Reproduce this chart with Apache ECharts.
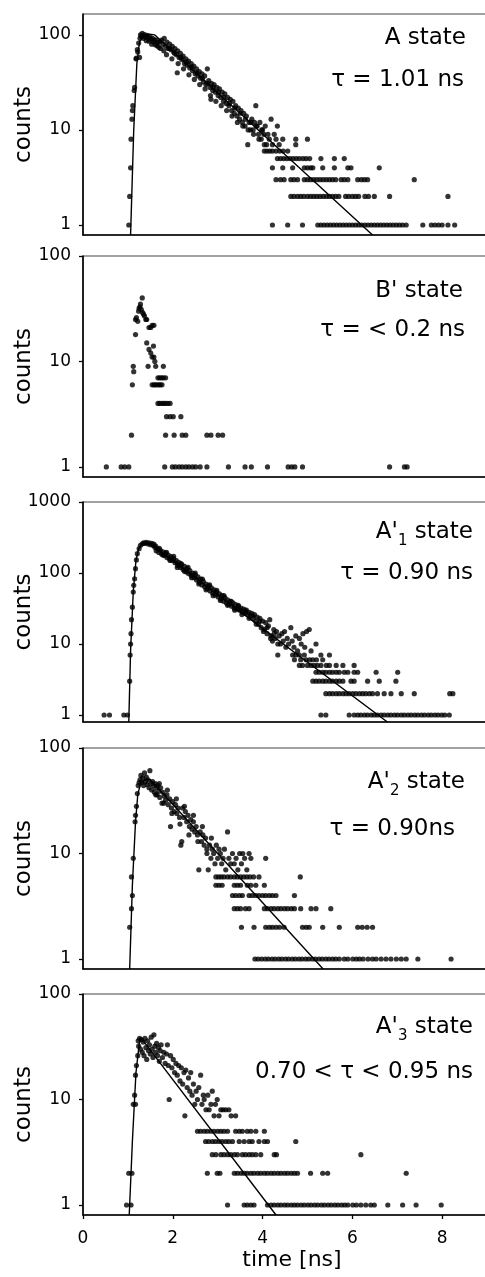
<!DOCTYPE html>
<html><head><meta charset="utf-8">
<script src="https://cdn.jsdelivr.net/npm/echarts@6/dist/echarts.min.js"></script>
<style>html,body{margin:0;padding:0;background:#fff}#c{width:485px;height:1277px}</style>
</head><body><div id="c"></div>
<script>
const FONT = 'DejaVu Sans';
const xTicks = [0, 2, 4, 6, 8];
const yTicks100 = [1, 10, 100];
const yTicks1000 = [1, 10, 100, 1000];
const xTitle = 'time [ns]';
const yTitle = 'counts';

// ---- Panel 1: A state ----
const p1Dots = [
 [1.02,1],[1.04,2],[1.06,4],[1.07,8],[1.09,13],[1.10,16],[1.11,18],[1.14,26],[1.15,28],[1.18,56],[1.19,57],[1.21,70],[1.22,66],[1.24,82],[1.26,58],[1.27,92],
 [1.28,100],[1.30,96],[1.32,104],[1.33,98],[1.35,92],[1.37,101],[1.39,95],[1.41,87],[1.43,99],[1.45,93],[1.47,86],[1.49,96],[1.51,90],[1.53,80],[1.55,92],[1.57,84],[1.59,89],[1.61,79],[1.63,88],[1.65,77],[1.67,83],[1.69,74],[1.71,85],[1.73,72],
 [1.75,88],[1.78,80],[1.81,92],[1.84,76],[1.87,84],[1.90,72],[1.93,80],[1.96,70],[1.99,76],[2.02,66],[2.05,72],[2.08,62],[2.10,40],[2.11,68],[2.14,58],[2.17,64],[2.20,55],[2.23,60],[2.26,50],[2.29,56],[2.32,48],[2.35,53],[2.38,45],[2.41,50],[2.44,42],[2.47,47],[2.50,39],[2.53,44],[2.56,37],[2.59,41],[2.62,35],[2.65,39],[2.68,32],[2.71,37],[2.74,30],[2.77,44],[2.80,33],[2.83,28],[2.85,21],[2.86,31],[2.89,26],[2.92,30],[2.95,25],[2.98,28],[3.01,23],[3.04,27],[3.07,22],[3.10,25],[3.13,20],[3.16,24],[3.19,19],[3.22,22],[3.25,18],[3.28,21],[3.31,16],[3.34,20],[3.37,15],[3.40,18],[3.43,14],[3.46,17],[3.49,13],[3.52,16],[3.55,12],[3.58,15],[3.61,11],[3.64,14],[3.67,7],[3.70,12],[3.73,10],[3.76,13],[3.79,10],[3.82,12],[3.85,18],[3.88,11],[3.91,9],[3.94,12],[3.97,8],[4.00,10],[4.03,9],[4.06,11],[4.09,7],[4.12,9],[4.15,8],[4.19,13],[4.22,7],[4.26,9],[4.30,8],[4.33,11],[4.37,7],[4.45,8],[4.74,8],[4.74,7],[5.00,8],
 [1.80,68],[1.86,62],[1.92,72],[1.98,56],[2.04,64],[2.12,50],[2.18,58],[2.24,44],[2.30,52],[2.36,38],[2.42,46],[2.48,34],[2.54,40],[2.60,30],[2.66,35],[2.72,27],[2.78,31],[2.84,23],[2.90,28],[2.96,20],[3.02,25],[3.08,18],[3.14,22],[3.20,16],[3.26,19],[3.32,14],[3.38,17],[3.44,12],[3.50,15],[3.56,11],[3.62,13],[3.68,10],[3.74,12],[3.80,9],[3.86,11],[3.92,8],[3.98,10],[4.04,7],
 [4.04,6],[4.10,6],[4.16,6],[4.22,6],[4.30,6],[4.38,6],[4.46,6],[4.56,6],
 [4.33,5],[4.40,5],[4.47,5],[4.54,5],[4.61,5],[4.68,5],[4.75,5],[4.82,5],[4.90,5],[4.97,5],[5.05,5],[5.30,5],[5.60,5],[5.82,5],
 [4.22,4],[4.45,4],[4.67,4],[4.93,4],[5.00,4],[5.07,4],[5.12,4],[5.34,4],[5.60,4],[5.90,4],[5.97,4],[6.60,4],
 [4.30,3],[4.40,3],[4.48,3],[4.63,3],[4.70,3],[4.78,3],[4.93,3],[5.00,3],[5.07,3],[5.14,3],[5.21,3],[5.28,3],[5.35,3],[5.42,3],[5.49,3],[5.56,3],[5.63,3],[5.75,3],[5.82,3],[5.90,3],[6.12,3],[6.20,3],[6.27,3],[6.34,3],[7.38,3],
 [4.63,2],[4.70,2],[4.78,2],[4.85,2],[4.92,2],[5.00,2],[5.07,2],[5.14,2],[5.21,2],[5.28,2],[5.35,2],[5.42,2],[5.49,2],[5.56,2],[5.63,2],[5.70,2],[5.85,2],[5.92,2],[6.00,2],[6.07,2],[6.14,2],[6.28,2],[6.36,2],[6.49,2],[6.83,2],[8.13,2],
 [4.22,1],[4.56,1],[4.89,1],[5.23,1],[5.30,1],[5.37,1],[5.44,1],[5.51,1],[5.58,1],[5.65,1],[5.72,1],[5.79,1],[5.86,1],[5.93,1],[6.00,1],[6.07,1],[6.14,1],[6.21,1],[6.28,1],[6.35,1],[6.42,1],[6.49,1],[6.56,1],[6.63,1],[6.70,1],[6.77,1],[6.84,1],[6.91,1],[6.98,1],[7.05,1],[7.12,1],[7.20,1],[7.57,1],[7.76,1],[7.84,1],[7.92,1],[8.00,1],[8.13,1],[8.28,1]
];
const p1Fit = [[1.06,0.785],[1.13,10],[1.20,50],[1.26,85],[1.35,98],[1.48,102],[1.60,100],[6.45,0.785]];

// ---- Panel 2: B' state ----
const p2Dots = [
 [1.08,2],[1.10,6],[1.12,9],[1.13,8],[1.17,18],[1.17,25],[1.19,26],[1.22,24],[1.24,30],[1.25,32],[1.27,33],[1.28,35],[1.30,31],[1.32,40],[1.33,29],[1.35,28],[1.37,27],[1.40,25],[1.42,25],[1.47,21],[1.51,21],[1.54,22],[1.58,22],
 [1.42,15],[1.47,13],[1.51,12],[1.54,11],[1.57,14],[1.58,11],[1.60,10],[1.62,9],[1.45,9],[1.79,9],
 [1.54,6],[1.58,6],[1.61,6],[1.65,6],[1.69,6],[1.72,6],[1.76,6],[1.67,7],[1.71,7],[1.75,7],[1.79,7],[1.84,7],
 [1.67,4],[1.71,4],[1.76,4],[1.80,4],[1.84,4],[1.89,4],[1.94,4],
 [1.86,3],[1.94,3],[2.01,3],[2.18,3],
 [1.84,2],[2.03,2],[2.21,2],[2.29,2],[2.76,2],[2.85,2],[3.01,2],[3.11,2],
 [0.52,1],[0.85,1],[0.93,1],[1.02,1],[1.82,1],[1.99,1],[2.06,1],[2.14,1],[2.21,1],[2.29,1],[2.36,1],[2.44,1],[2.51,1],[2.61,1],[2.76,1],[3.24,1],[3.61,1],[3.75,1],[4.11,1],[4.57,1],[4.65,1],[4.72,1],[4.89,1],[6.83,1],[7.16,1],[7.22,1]
];

// ---- Panel 3: A'1 state ----
const p3Dots = [
 [0.47,1],[0.59,1],[0.91,1],[0.99,1],
 [1.04,3],[1.05,7],[1.06,10],[1.07,14],[1.08,22],[1.10,33],[1.12,54],[1.13,67],[1.15,83],[1.17,115],[1.19,153],[1.21,187],[1.25,220],[1.28,245],[1.32,258],[1.35,265],[1.38,262],[1.41,270],[1.44,258],[1.47,266],[1.50,250],[1.53,262],[1.56,245],[1.58,255],
 [1.60,230],[1.63,205],[1.66,220],[1.69,195],[1.72,210],[1.75,185],[1.78,198],[1.81,176],[1.84,190],[1.87,165],[1.90,178],[1.93,158],[1.96,170],[1.99,150],[2.02,160],[2.05,140],[2.08,150],[2.11,128],[2.14,140],[2.17,120],[2.20,132],[2.23,112],[2.26,124],[2.29,104],[2.32,115],[2.35,98],[2.38,108],[2.41,92],[2.44,100],[2.47,86],[2.50,94],[2.53,80],[2.56,88],[2.59,74],[2.62,82],[2.65,68],[2.68,76],[2.71,64],[2.74,70],[2.77,60],[2.80,66],[2.83,56],[2.86,62],[2.89,52],[2.92,58],[2.95,49],[2.98,54],[3.01,46],[3.04,51],[3.07,43],[3.10,48],[3.13,40],[3.16,45],[3.19,38],[3.22,42],[3.25,36],[3.28,40],[3.31,34],[3.34,38],[3.37,32],[3.40,36],[3.43,31],[3.46,34],[3.49,30],[3.52,32],[3.55,28],[3.58,31],[3.61,27],[3.64,30],[3.67,26],[3.70,28],[3.73,25],[3.76,27],[3.79,23],[3.82,26],[3.85,21],[3.88,24],[3.91,19],[3.94,23],[3.97,17],[4.00,21],[4.04,16],[4.07,20],[4.10,14],[4.13,18],[4.16,22],[4.19,13],[4.22,11],[4.25,16],[4.28,12],[4.31,15],[4.34,7],[4.37,13],[4.40,10],[4.43,14],[4.46,11],[4.49,15],[4.52,9],[4.55,12],[4.58,10],[4.63,17],[4.66,11],[4.70,9],[4.74,13],[4.78,8],[4.82,12],[4.86,10],[4.90,14],[4.94,9],[4.98,15],[5.04,16],[5.08,8],[5.19,10],
 [1.62,240],[1.70,222],[1.78,180],[1.86,195],[1.94,150],[2.02,172],[2.10,120],[2.18,136],[2.26,106],[2.34,120],[2.42,86],[2.50,100],[2.58,70],[2.66,82],[2.74,58],[2.82,68],[2.90,48],[2.98,57],[3.06,41],[3.14,48],[3.22,35],[3.30,40],[3.38,30],[3.46,35],[3.54,26],[3.62,29],[3.70,23],[3.78,25],[3.86,19],[3.94,21],[4.02,15],[4.10,17],[4.18,12],[4.26,14],[4.34,10],
 [4.67,7],[4.74,7],[4.82,7],[4.93,7],[5.30,7],[5.49,7],
 [4.71,6],[4.85,6],[4.97,6],[5.05,6],[5.12,6],[5.20,6],[5.34,6],
 [4.82,5],[4.89,5],[5.00,5],[5.08,5],[5.15,5],[5.22,5],[5.30,5],[5.42,5],[5.49,5],[5.64,5],[5.79,5],[6.04,5],
 [5.19,4],[5.26,4],[5.34,4],[5.41,4],[5.49,4],[5.56,4],[5.64,4],[5.71,4],[5.82,4],[5.90,4],[6.04,4],[6.12,4],[6.53,4],[7.01,4],
 [5.12,3],[5.19,3],[5.26,3],[5.34,3],[5.41,3],[5.49,3],[5.56,3],[5.64,3],[5.71,3],[5.79,3],[5.97,3],[6.04,3],[6.34,3],[6.60,3],[6.97,3],
 [5.41,2],[5.49,2],[5.56,2],[5.64,2],[5.71,2],[5.79,2],[5.86,2],[5.93,2],[6.01,2],[6.08,2],[6.16,2],[6.23,2],[6.30,2],[6.38,2],[6.45,2],[6.56,2],[6.71,2],[6.86,2],[7.09,2],[7.38,2],[8.17,2],[8.24,2],
 [5.30,1],[5.41,1],[5.93,1],[6.04,1],[6.12,1],[6.19,1],[6.27,1],[6.34,1],[6.42,1],[6.49,1],[6.56,1],[6.64,1],[6.71,1],[6.79,1],[6.86,1],[6.94,1],[7.01,1],[7.09,1],[7.16,1],[7.24,1],[7.31,1],[7.39,1],[7.46,1],[7.54,1],[7.61,1],[7.69,1],[7.76,1],[7.84,1],[7.91,1],[7.99,1],[8.06,1],[8.16,1]
];
const p3Fit = [[1.02,0.797],[1.06,8],[1.12,55],[1.18,150],[1.24,220],[1.30,250],[1.40,262],[1.50,250],[1.60,228],[6.78,0.797]];

// ---- Panel 4: A'2 state ----
const p4Dots = [
 [1.04,2],[1.08,3],[1.10,4],[1.08,6],[1.12,9],[1.16,20],[1.17,23],[1.19,28],[1.21,37],[1.23,44],[1.25,47],
 [1.27,50],[1.29,55],[1.31,47],[1.33,52],[1.35,44],[1.37,58],[1.39,48],[1.41,53],[1.43,45],[1.45,50],[1.47,42],[1.49,61],[1.51,46],[1.53,40],[1.55,48],[1.57,44],[1.59,38],[1.61,46],[1.63,42],[1.65,36],[1.67,44],[1.69,39],[1.71,34],[1.73,42],[1.76,30],[1.78,38],[1.81,35],[1.84,32],[1.87,36],[1.90,29],[1.93,33],[1.95,18],[1.97,27],[2.00,31],[2.03,25],[2.06,29],[2.09,24],[2.12,27],[2.15,22],[2.18,12],[2.20,13],[2.22,27],[2.25,22],[2.28,25],[2.31,20],[2.34,23],[2.37,18],[2.40,21],[2.43,17],[2.46,20],[2.49,16],[2.52,18],[2.55,15],[2.58,7],[2.61,16],[2.64,13],[2.67,15],[2.70,12],[2.73,14],[2.76,10],[2.79,7],[2.82,12],[2.85,9],[2.88,11],[2.91,10],[2.94,8],[2.97,12],[3.00,9],[3.03,11],[3.06,10],[3.09,8],[3.12,9],[3.15,11],[3.18,7],[3.22,16],[3.25,9],[3.29,8],[3.33,10],[3.37,8],[3.41,9],[3.45,7],[3.49,10],[3.53,8],[3.56,10],[3.60,9],[3.65,7],[3.70,10],[3.74,9],[4.07,9],
 [1.62,36],[1.70,46],[1.80,30],[1.88,40],[1.98,24],[2.08,33],[2.16,19],[2.26,28],[2.36,15],[2.46,23],[2.56,13],[2.66,18],[2.76,11],[2.86,14],
 [2.96,6],[3.02,6],[3.08,6],[3.14,6],[3.22,6],[3.29,6],[3.37,6],[3.44,6],[3.51,6],[3.58,6],[3.65,6],[3.72,6],[3.80,6],[3.92,6],[4.84,6],
 [2.96,5],[3.03,5],[3.10,5],[3.37,5],[3.44,5],[3.51,5],[3.66,5],[3.74,5],[3.85,5],[4.04,5],
 [3.33,4],[3.40,4],[3.48,4],[3.55,4],[3.70,4],[3.77,4],[3.85,4],[3.92,4],[4.00,4],[4.07,4],[4.15,4],[4.22,4],[4.30,4],[4.71,4],
 [3.37,3],[3.44,3],[3.51,3],[3.62,3],[3.70,3],[4.04,3],[4.11,3],[4.19,3],[4.26,3],[4.34,3],[4.41,3],[4.49,3],[4.56,3],[4.64,3],[4.71,3],[4.85,3],[5.08,3],[5.19,3],[5.52,3],
 [3.53,2],[3.81,2],[4.07,2],[4.15,2],[4.22,2],[4.30,2],[4.38,2],[4.48,2],[4.89,2],[4.97,2],[5.04,2],[5.34,2],[5.71,2],[6.12,2],[6.22,2],[6.33,2],[6.45,2],
 [3.83,1],[3.90,1],[3.98,1],[4.06,1],[4.13,1],[4.21,1],[4.28,1],[4.36,1],[4.43,1],[4.51,1],[4.58,1],[4.66,1],[4.73,1],[4.81,1],[4.88,1],[4.96,1],[5.03,1],[5.11,1],[5.18,1],[5.26,1],[5.33,1],[5.41,1],[5.48,1],[5.56,1],[5.63,1],[5.71,1],[5.82,1],[5.90,1],[6.01,1],[6.09,1],[6.16,1],[6.24,1],[6.35,1],[6.45,1],[6.53,1],[6.64,1],[6.75,1],[6.86,1],[6.98,1],[7.09,1],[7.20,1],[7.46,1],[8.20,1]
];
const p4Fit = [[1.04,0.804],[1.10,5],[1.17,20],[1.22,36],[1.28,46],[1.38,50],[1.50,50],[5.35,0.804]];

// ---- Panel 5: A'3 state ----
const p5Dots = [
 [0.97,1],[1.07,1],[1.02,2],[1.09,2],[1.12,9],[1.17,9],[1.15,11],[1.17,17],[1.19,21],[1.22,26],[1.23,36],[1.24,32],
 [1.26,38],[1.28,30],[1.30,37],[1.32,28],[1.34,35],[1.36,26],[1.38,38],[1.40,31],[1.42,24],[1.44,36],[1.46,29],[1.48,33],[1.50,27],[1.52,39],[1.54,30],[1.56,25],[1.58,41],[1.60,32],[1.62,28],[1.64,34],[1.66,26],[1.68,31],[1.70,23],[1.72,29],[1.74,33],[1.77,25],[1.80,28],[1.83,22],[1.86,27],[1.88,33],[1.90,21],[1.92,10],[1.95,26],[1.98,20],[2.01,24],[2.04,18],[2.07,22],[2.10,17],[2.13,21],[2.16,15],[2.19,20],[2.22,14],[2.25,18],[2.27,7],[2.29,19],[2.32,13],[2.35,16],[2.38,12],[2.40,18],[2.43,11],[2.46,14],[2.49,9],[2.52,12],[2.55,10],[2.58,13],[2.62,17],[2.65,9],[2.68,11],[2.70,10],[2.74,8],[2.78,11],[2.81,8],[2.85,9],[2.88,12],[2.92,7],[2.95,9],[2.99,10],[3.03,7],[3.07,8],[3.12,8],[3.18,8],[3.25,8],[3.30,7],[3.40,7],
 [2.55,5],[2.62,5],[2.70,5],[2.77,5],[2.85,5],[2.92,5],[3.00,5],[3.07,5],[3.14,5],[3.22,5],[3.40,5],[3.48,5],[3.55,5],[3.66,5],[3.74,5],[3.85,5],[4.04,5],
 [2.73,4],[2.80,4],[2.88,4],[2.95,4],[3.03,4],[3.10,4],[3.18,4],[3.25,4],[3.33,4],[3.48,4],[3.59,4],[3.70,4],[3.77,4],[3.92,4],[4.04,4],[4.11,4],[4.74,4],
 [2.88,3],[2.96,3],[3.07,3],[3.14,3],[3.22,3],[3.29,3],[3.37,3],[3.44,3],[3.55,3],[3.62,3],[3.70,3],[3.77,3],[3.85,3],[3.96,3],[4.26,3],[4.31,3],[6.19,3],
 [2.77,2],[2.99,2],[3.05,2],[3.37,2],[3.44,2],[3.52,2],[3.59,2],[3.66,2],[3.74,2],[3.81,2],[3.89,2],[3.96,2],[4.04,2],[4.11,2],[4.19,2],[4.26,2],[4.34,2],[4.41,2],[4.49,2],[4.56,2],[4.64,2],[4.71,2],[4.78,2],[5.07,2],[5.34,2],[5.45,2],[7.20,2],
 [3.22,1],[3.59,1],[3.66,1],[3.74,1],[3.81,1],[4.11,1],[4.19,1],[4.26,1],[4.34,1],[4.41,1],[4.49,1],[4.56,1],[4.64,1],[4.71,1],[4.78,1],[4.86,1],[4.93,1],[5.01,1],[5.08,1],[5.16,1],[5.23,1],[5.31,1],[5.38,1],[5.46,1],[5.53,1],[5.61,1],[5.68,1],[5.76,1],[5.83,1],[5.90,1],[6.01,1],[6.09,1],[6.19,1],[6.30,1],[6.41,1],[6.49,1],[6.79,1],[7.12,1],[7.42,1],[7.98,1]
];
const p5Fit = [[1.03,0.804],[1.10,4],[1.18,18],[1.26,36],[1.30,38],[4.30,0.804]];

const stateLabels = ["{m|A state}", "{m|B' state}", "{m|A'}{s|1}{m| state}", "{m|A'}{s|2}{m| state}", "{m|A'}{s|3}{m| state}"];
const tauLabels = ["τ = 1.01 ns", "τ = < 0.2 ns", "τ = 0.90 ns", "τ = 0.90ns", "0.70 < τ < 0.95 ns"];

const panels = [
  {dots: p1Dots, fit: p1Fit, ticks: yTicks100, top: 14, h: 221, min: 0.785, max: 166, t1: [466, 38], t2: [464, 80]},
  {dots: p2Dots, fit: null, ticks: yTicks100, top: 256, h: 221, min: 0.803, max: 100, t1: [463, 291], t2: [465, 330]},
  {dots: p3Dots, fit: p3Fit, ticks: yTicks1000, top: 502, h: 220, min: 0.797, max: 1000, t1: [473, 532], t2: [473, 573]},
  {dots: p4Dots, fit: p4Fit, ticks: yTicks100, top: 748, h: 221, min: 0.804, max: 100, t1: [465, 782], t2: [455, 829]},
  {dots: p5Dots, fit: p5Fit, ticks: yTicks100, top: 994, h: 221, min: 0.804, max: 100, t1: [473, 1027], t2: [473, 1072]}
];

const grids = [], xAxes = [], yAxes = [], series = [], graphics = [];
panels.forEach((p, i) => {
  const last = i === panels.length - 1;
  grids.push({left: 83, right: -2, top: p.top, height: p.h, show: true, borderColor: '#444', borderWidth: 1,
    backgroundColor: 'transparent', containLabel: false, outerBoundsMode: 'none'});
  xAxes.push({
    type: 'value', gridIndex: i, min: 0, max: 9,
    axisLine: {show: true, onZero: false, lineStyle: {color: '#000', width: 1.6}},
    axisTick: {show: last, length: 4, customValues: xTicks, lineStyle: {color: '#000', width: 1.3}},
    axisLabel: {show: last, customValues: xTicks, margin: 15, fontFamily: FONT, fontSize: 17, color: '#000'},
    splitLine: {show: false},
    name: last ? xTitle : '', nameLocation: 'middle', nameGap: 34, nameMoveOverlap: false,
    nameTextStyle: {fontFamily: FONT, fontSize: 22, color: '#000', padding: [0, 0, 0, 14]}
  });
  yAxes.push({
    type: 'log', logBase: 10, gridIndex: i, min: p.min, max: p.max,
    axisLine: {show: true, lineStyle: {color: '#000', width: 1.6}},
    axisTick: {show: true, length: 4, customValues: p.ticks, lineStyle: {color: '#000', width: 1.3}},
    axisLabel: {customValues: p.ticks, margin: 12, fontFamily: FONT, fontSize: 17, color: '#000',
      formatter: (v) => String(Math.round(v))},
    minorTick: {show: false}, splitLine: {show: false}, minorSplitLine: {show: false},
    name: yTitle, nameLocation: 'middle', nameGap: 47, nameMoveOverlap: false,
    nameTextStyle: {fontFamily: FONT, fontSize: 23, color: '#000'}
  });
  series.push({
    type: 'scatter', xAxisIndex: i, yAxisIndex: i, data: p.dots,
    symbol: 'circle', symbolSize: 5.2, itemStyle: {color: '#000'}, silent: true, z: 2
  });
  if (p.fit) {
    series.push({
      type: 'line', xAxisIndex: i, yAxisIndex: i, data: p.fit, showSymbol: false, symbol: 'none',
      lineStyle: {color: '#000', width: 1.4}, silent: true, z: 3, clip: true
    });
  }
  graphics.push({
    type: 'text', x: p.t1[0], y: p.t1[1],
    style: {text: stateLabels[i], align: 'right', verticalAlign: 'middle', fill: '#000',
      rich: {m: {fontFamily: FONT, fontSize: 23, lineHeight: 34, fill: '#000'},
             s: {fontFamily: FONT, fontSize: 15, lineHeight: 15, verticalAlign: 'bottom', fill: '#000'}}}
  });
  graphics.push({
    type: 'text', x: p.t2[0], y: p.t2[1],
    style: {text: tauLabels[i], align: 'right', verticalAlign: 'middle', fill: '#000', font: '23px "DejaVu Sans"'}
  });
});

const chart = echarts.init(document.getElementById('c'), null, {renderer: 'canvas'});
chart.setOption({
  animation: false,
  backgroundColor: '#fff',
  grid: grids, xAxis: xAxes, yAxis: yAxes, series: series,
  graphic: graphics
});
</script>
</body></html>
